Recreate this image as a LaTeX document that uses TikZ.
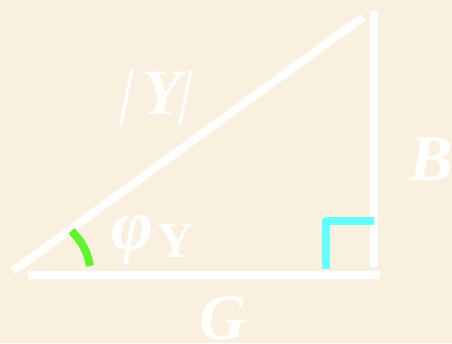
\documentclass[tikz,border=0pt]{standalone}
\usepackage{fontspec}
\setmainfont{Liberation Serif}
\definecolor{bgc}{RGB}{250,240,224}
\definecolor{grn}{RGB}{94,245,46}
\definecolor{cyn}{RGB}{102,255,255}
\begin{document}
\begin{tikzpicture}[x=1pt,y=1pt,
  side/.style={draw=white,line width=8pt},
  lbl/.style={text=white,inner sep=0pt,font=\fontsize{65}{70}\selectfont\bfseries\itshape},
  barlbl/.style={text=white,inner sep=0pt,font=\fontsize{62}{66}\selectfont,xslant=0.2,transform shape}]
\fill[bgc] (0,0) rectangle (452,343);
\useasboundingbox (0,0) rectangle (452,343);
\coordinate (h1) at (13,72);
\coordinate (h2) at (363,326);
\coordinate (v1) at (374,332);
\coordinate (v2) at (374,76);
\coordinate (b1) at (28,68);
\coordinate (b2) at (380,68);
\coordinate (r1) at (326,74);
\coordinate (r2) at (326,122);
\coordinate (r3) at (374,122);
\coordinate (a1) at (90,77);
\draw[side] (h1) -- (h2);
\draw[side] (v1) -- (v2);
\draw[side] (b1) -- (b2);
\draw[draw=cyn,line width=8pt,line join=round] (r1) -- (r2) -- (r3);
\draw[draw=grn,line width=8pt] (a1) arc[start angle=9,end angle=47,radius=61];
\node[lbl,anchor=base] (ny) at (162,228) {Y};
\node[barlbl,anchor=center] (bl) at (127,244) {|};
\node[barlbl,anchor=center] (br) at (186,244) {|};
\node[lbl,anchor=base west] (nb) at (409,163) {B};
\node[lbl,anchor=base west] (ng) at (199,4) {G};
\node[lbl,anchor=base west,font=\fontsize{72}{76}\selectfont\bfseries\itshape] (nphi) at (111,94) {φ};
\node[lbl,anchor=base west,font=\fontsize{50}{55}\selectfont\bfseries] (nsub) at (157,86) {Y};
\end{tikzpicture}
\end{document}
